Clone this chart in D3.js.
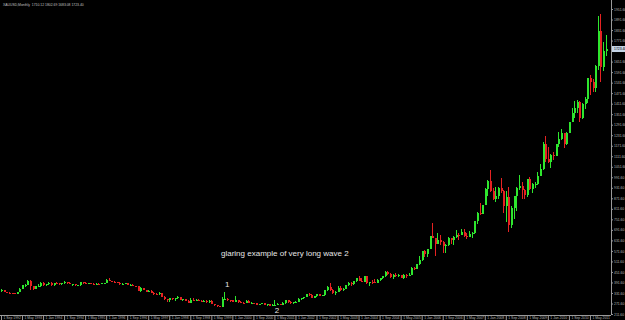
<!DOCTYPE html>
<html>
<head>
<meta charset="utf-8">
<script src="https://cdn.jsdelivr.net/npm/d3@7"></script>
<style>
  html, body { margin: 0; padding: 0; background: #000; overflow: hidden; }
  svg { display: block; }
</style>
</head>
<body>
<script>
// XAUUSD monthly candles, Sep 1992 .. Nov 2011
const opens = [
  341,349,339,334, // 1992 Sep-Dec
  333,330,328,338,355,378,378,401,371,355,370,371, // 1993
  391,377,381,391,376,387,386,384,386,394,389,383, // 1994
  383,375,376,392,389,385,387,384,383,384,383,387, // 1995
  387,405,400,396,392,391,382,385,387,379,379,371, // 1996
  369,345,358,348,340,345,334,326,324,332,311,296, // 1997
  290,303,297,301,310,293,296,288,273,294,292,294, // 1998
  288,287,287,280,286,268,262,255,254,299,299,291, // 1999
  290,283,293,279,274,273,288,277,277,273,264,270, // 2000
  272,265,267,258,263,265,270,265,273,293,279,275, // 2001
  279,282,297,301,308,326,318,305,313,323,317,318, // 2002
  347,368,347,334,338,361,346,354,375,388,384,398, // 2003
  416,400,396,427,387,395,394,391,408,415,428,453, // 2004
  438,422,436,428,435,417,435,429,433,473,470,495, // 2005
  517,569,556,582,654,643,613,632,623,599,603,646, // 2006
  632,650,665,662,680,659,650,666,672,743,789,783, // 2007
  834,923,971,916,865,886,930,913,829,880,718,815, // 2008
  884,928,942,919,891,979,927,954,955,1001,1039,1182, // 2009
  1096,1081,1118,1113,1179,1212,1243,1181,1247,1309,1357,1386, // 2010
  1421,1332,1410,1439,1556,1536,1500,1628,1826,1620,1710.12 // 2011 Jan-Nov
];
const highs = [
  354,350,340,337,
  334,333,340,360,378,381,407,406,374,372,381,393,
  393,385,392,393,389,392,389,388,398,397,392,385,
  384,379,396,396,393,390,389,389,387,389,389,390,
  410,416,402,398,395,392,388,389,388,385,385,373,
  370,365,358,348,349,347,336,332,336,334,313,299,
  303,305,303,315,311,298,299,291,301,302,300,298,
  292,291,291,292,290,268,265,259,307,338,301,294,
  292,315,294,285,278,292,290,281,277,275,271,275,
  273,268,269,266,294,274,271,279,294,294,285,283,
  284,303,304,310,327,331,323,316,326,325,322,349,
  372,389,353,342,372,370,360,378,392,395,401,417,
  428,419,428,428,395,404,409,414,415,430,456,456,
  444,438,447,438,436,441,441,448,477,478,497,541,
  572,574,584,654,730,647,676,663,626,611,650,648,
  658,690,672,694,695,673,683,677,744,793,846,836,
  929,976,1032,930,935,937,988,918,912,936,827,881,
  935,1007,962,926,981,991,960,965,1024,1070,1195,1227,
  1162,1126,1135,1180,1249,1265,1245,1249,1308,1387,1424,1432,
  1424,1413,1448,1557,1577,1553,1632,1913,1921,1763,1802.69
];
const lows = [
  338,336,330,330,
  326,326,326,336,353,364,377,351,349,352,367,368,
  373,374,378,369,374,381,378,376,385,385,381,374,
  371,371,373,385,381,383,381,380,380,380,381,385,
  386,398,393,388,389,379,379,384,377,377,371,366,
  343,340,346,336,338,333,319,320,319,307,294,283,
  278,292,287,300,290,284,286,272,272,286,290,285,
  283,281,277,277,267,257,252,252,253,294,287,280,
  280,282,276,272,269,272,276,270,267,264,263,267,
  262,255,256,255,262,264,263,264,270,277,271,270,
  277,281,290,298,306,316,302,302,310,312,314,317,
  343,345,327,319,337,342,341,352,372,369,378,396,
  400,393,392,383,371,385,387,390,399,412,423,432,
  418,413,424,420,415,414,418,427,432,460,467,489,
  515,538,537,580,643,543,609,608,561,560,599,611,
  603,645,636,660,653,641,649,643,670,723,777,781,
  833,884,909,863,850,866,904,786,737,681,700,751,
  801,917,866,865,882,919,904,930,950,1001,1035,1077,
  1075,1044,1088,1113,1162,1202,1157,1175,1243,1307,1330,1359,
  1308,1324,1381,1418,1462,1477,1480,1604,1534,1600,1683.08
];
const closes = [
  349,339,334,333,
  330,328,338,355,378,378,401,371,355,370,371,391,
  377,381,391,376,387,386,384,386,394,389,383,383,
  375,376,392,389,385,387,384,383,384,383,387,387,
  405,400,396,392,391,382,385,387,379,379,371,369,
  345,358,348,340,345,334,326,324,332,311,296,290,
  303,297,301,310,293,296,288,273,294,292,294,288,
  287,287,280,286,268,262,255,254,299,299,291,290,
  283,293,279,274,273,288,277,277,273,264,270,272,
  265,267,258,263,265,270,265,273,293,279,275,279,
  282,297,301,308,326,318,305,313,323,317,318,347,
  368,347,334,338,361,346,354,375,388,384,398,416,
  400,396,427,387,395,394,391,408,415,428,453,438,
  422,436,428,435,417,435,429,433,473,470,495,517,
  569,556,582,654,643,613,632,623,599,603,646,632,
  650,665,662,680,659,650,666,672,743,789,783,834,
  923,971,916,865,886,930,913,829,880,718,815,884,
  928,942,919,891,979,927,954,955,1001,1039,1182,1096,
  1081,1118,1113,1179,1212,1243,1181,1247,1307,1357,1386,1421,
  1332,1410,1439,1556,1536,1500,1628,1826,1620,1713,1723.40
];

const priceTicks = [211.6,271.6,331.6,391.6,451.6,511.6,571.6,631.6,691.6,751.6,
  811.6,871.6,931.6,991.6,1051.6,1111.6,1171.6,1231.6,1291.6,1351.6,1411.6,1471.6,
  1531.6,1591.6,1651.6,1771.6,1831.6,1891.6,1951.6];
const dateTicks = ["1 Sep 1992","1 May 1993","1 Jan 1994","1 Sep 1994","1 May 1995","1 Jan 1996",
  "1 Sep 1996","1 May 1997","1 Jan 1998","1 Sep 1998","1 May 1999","1 Jan 2000","1 Sep 2000",
  "1 May 2001","1 Jan 2002","1 Sep 2002","1 May 2003","1 Jan 2004","1 Sep 2004","1 May 2005",
  "1 Jan 2006","1 Sep 2006","1 May 2007","1 Jan 2008","1 Sep 2008","1 May 2009","1 Jan 2010",
  "1 Sep 2010","1 May 2011"];

const header = "XAUUSD,Monthly  1710.12 1802.69 1683.08 1723.40";
const note = "glaring example of very long wave 2";
const waveMarks = [{label: "1", month: "Nov 1999"}, {label: "2", month: "Jun 2001"}];

const W = 625, H = 320;
const plotRight = 611, plotBottom = 315;
const fmtMonth = d3.timeFormat("%b %Y");
const months = d3.timeMonth.range(new Date(1992, 8, 1), new Date(2011, 11, 1)).map(fmtMonth);

const bars = months.map((m, i) => ({m: m, i: i, o: opens[i], h: highs[i], l: lows[i], c: closes[i]}));

const x = d3.scaleLinear().domain([0, months.length - 1]).range([1, 605.7]);
const y = d3.scaleLinear().domain([206, 2003]).range([plotBottom, 0]);

const svg = d3.select("body").append("svg")
  .attr("width", W).attr("height", H)
  .style("font-family", "'Liberation Sans', Arial, sans-serif");

svg.append("rect").attr("width", W).attr("height", H).attr("fill", "#000");

const up = "#2ee62e", down = "#e62222";
const g = svg.append("g").attr("shape-rendering", "crispEdges");

g.selectAll("line.wick")
  .data(bars)
  .join("line")
  .attr("class", "wick")
  .attr("x1", d => Math.round(x(d.i)) + 0.5)
  .attr("x2", d => Math.round(x(d.i)) + 0.5)
  .attr("y1", d => y(d.h))
  .attr("y2", d => y(d.l))
  .attr("stroke", d => d.c >= d.o ? up : down)
  .attr("stroke-width", 1);

g.selectAll("rect.body")
  .data(bars)
  .join("rect")
  .attr("class", "body")
  .attr("x", d => Math.round(x(d.i)))
  .attr("y", d => y(Math.max(d.o, d.c)))
  .attr("width", 2)
  .attr("height", d => Math.max(1, Math.abs(y(d.o) - y(d.c))))
  .attr("fill", d => d.c >= d.o ? up : down);

// right price scale
const yAxis = svg.append("g")
  .attr("transform", `translate(${plotRight},0)`)
  .call(d3.axisRight(y).tickValues(priceTicks).tickSize(2).tickPadding(1).tickFormat(d3.format(".2f")));
yAxis.select(".domain").attr("stroke", "#9a9a9a").attr("d", `M0.5,0V${plotBottom}`);
yAxis.selectAll(".tick line").attr("stroke", "#9a9a9a");
yAxis.selectAll(".tick text").attr("fill", "#b8b8b8").attr("font-size", 3.4).attr("font-family", null);

// bottom time scale
const tickIdx = dateTicks.map(t => months.indexOf(t.slice(2)));
const xAxis = svg.append("g")
  .attr("transform", `translate(0,${plotBottom})`)
  .call(d3.axisBottom(x).tickValues(tickIdx).tickSize(5).tickFormat((d, k) => dateTicks[k]));
xAxis.select(".domain").attr("stroke", "#9a9a9a").attr("d", `M0,0.5H${plotRight}`);
xAxis.selectAll(".tick line").attr("stroke", "#9a9a9a");
xAxis.selectAll(".tick text")
  .attr("fill", "#b8b8b8").attr("font-size", 3.4).attr("font-family", null)
  .attr("text-anchor", "start").attr("x", 2).attr("y", 2).attr("dy", "0.71em");

// current price box
const last = bars[bars.length - 1];
svg.append("rect")
  .attr("x", plotRight + 1).attr("y", y(last.c) - 3)
  .attr("width", W - plotRight - 1).attr("height", 6)
  .attr("fill", "#c4d4e6");
svg.append("text")
  .attr("x", plotRight + 3).attr("y", y(last.c))
  .attr("dy", "0.35em")
  .attr("font-size", 3.4).attr("fill", "#000")
  .text(d3.format(".2f")(last.c));

// header
svg.append("text")
  .attr("x", 3).attr("y", 6)
  .attr("font-size", 3.4).attr("fill", "#c0c0c0")
  .attr("xml:space", "preserve")
  .text(header);

// annotations
svg.append("text")
  .attr("x", 221).attr("y", 256)
  .attr("font-size", 8).attr("fill", "#e6e6e6")
  .text(note);

svg.selectAll("text.wave")
  .data(waveMarks)
  .join("text")
  .attr("class", "wave")
  .attr("x", d => x(months.indexOf(d.month)))
  .attr("y", d => d.label === "1" ? 287 : 313)
  .attr("text-anchor", "middle")
  .attr("font-size", 8).attr("fill", "#e6e6e6")
  .text(d => d.label);
</script>
</body>
</html>
